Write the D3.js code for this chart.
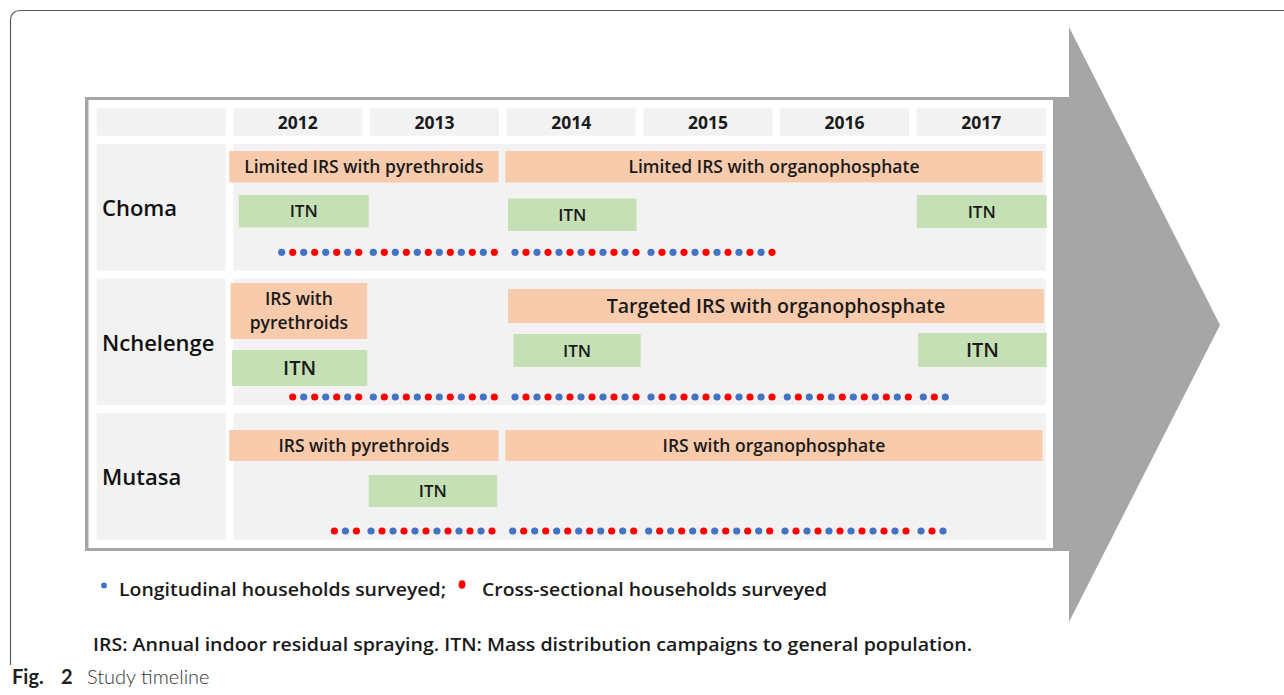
<!DOCTYPE html>
<html><head><meta charset="utf-8">
<script src="https://cdn.jsdelivr.net/npm/d3@7/dist/d3.min.js"></script>
<style>
html,body{margin:0;padding:0;background:#fff;}
svg{display:block;}
</style></head>
<body>
<svg id="chart" width="1284" height="695"></svg>
<script>
// ---------- DATA ----------
const years = ["2012", "2013", "2014", "2015", "2016", "2017"];
const sites = ["Choma", "Nchelenge", "Mutasa"];

// interventions: start/end in fractional years read from the timeline
const interventions = [
  { site: "Choma", kind: "IRS", lines: ["Limited IRS with pyrethroids"], start: 2011.97, end: 2013.94 },
  { site: "Choma", kind: "IRS", lines: ["Limited IRS with organophosphate"], start: 2013.99, end: 2017.92 },
  { site: "Choma", kind: "ITN", lines: ["ITN"], start: 2012.04, end: 2012.99 },
  { site: "Choma", kind: "ITN", lines: ["ITN"], start: 2014.01, end: 2014.95 },
  { site: "Choma", kind: "ITN", lines: ["ITN"], start: 2017.00, end: 2017.95 },
  { site: "Nchelenge", kind: "IRS", lines: ["IRS with", "pyrethroids"], start: 2011.98, end: 2012.98 },
  { site: "Nchelenge", kind: "IRS", lines: ["Targeted IRS with organophosphate"], start: 2014.01, end: 2017.93 },
  { site: "Nchelenge", kind: "ITN", lines: ["ITN"], start: 2011.99, end: 2012.98 },
  { site: "Nchelenge", kind: "ITN", lines: ["ITN"], start: 2014.05, end: 2014.98 },
  { site: "Nchelenge", kind: "ITN", lines: ["ITN"], start: 2017.01, end: 2017.95 },
  { site: "Mutasa", kind: "IRS", lines: ["IRS with pyrethroids"], start: 2011.97, end: 2013.94 },
  { site: "Mutasa", kind: "IRS", lines: ["IRS with organophosphate"], start: 2013.99, end: 2017.92 },
  { site: "Mutasa", kind: "ITN", lines: ["ITN"], start: 2012.99, end: 2013.93 }
];

// monthly surveys per site and year: L = longitudinal, C = cross-sectional, - = none
const surveys = {
  Choma:     ["----LCLCLCLC", "LCLCLCLCLCLC", "LCLCLCLCLCLC", "LCLCLCLCLCLC", "------------", "------------"],
  Nchelenge: ["-----CLCLCLC", "LCLCLCLCLCLC", "LCLCLCLCLCLC", "LCLCLCLCLCLC", "LCLCLCLCLCLC", "LCL---------"],
  Mutasa:    ["---------CLC", "LCLCLCLCLCLC", "LCLCLCLCLCLC", "LCLCLCLCLCLC", "LCLCLCLCLCLC", "LCL---------"]
};
const surveyTypes = ["L", "C"];
const legendLabels = ["Longitudinal households surveyed;", "Cross-sectional households surveyed"];
const footnote = "IRS: Annual indoor residual spraying. ITN: Mass distribution campaigns to general population.";
const captionBold = "Fig. 2";
const captionText = "Study timeline";

// ---------- LAYOUT (positions / sizes / styles) ----------
// per intervention: top offset within the row, height, font size
const barLayout = [
  { top: 7, h: 31.5, fs: 17.5 }, { top: 7, h: 31.5, fs: 17.5 },
  { top: 51, h: 32.5, fs: 17 }, { top: 54.5, h: 32.5, fs: 17 }, { top: 51, h: 33, fs: 17 },
  { top: 4.5, h: 56, fs: 17.5 }, { top: 10.5, h: 34, fs: 19.6 },
  { top: 71.5, h: 36, fs: 20 }, { top: 55.5, h: 33, fs: 17 }, { top: 54.5, h: 34, fs: 20 },
  { top: 17, h: 31, fs: 17.5 }, { top: 17, h: 31, fs: 17.5 },
  { top: 62, h: 32, fs: 17 }
];
const dotYearOffset = [4.4, 3.3, 8.3, 7.6, 7.2, 6.5];
const dotSiteShift = { Choma: 0, Nchelenge: 0, Mutasa: -2.3 };
const dotRowOffset = { Choma: 108.3, Nchelenge: 118.5, Mutasa: 118 };
const monthStep = 11;

const colors = { IRS: "#f8cbad", ITN: "#c5e0b4", L: "#4472c4", C: "#ff0000", cell: "#f2f2f2", arrow: "#a6a6a6" };
const FONT = "'Open Sans', 'Noto Sans', sans-serif";

// ---------- DRAW ----------
const svg = d3.select("#chart");

// card outline
svg.append("path")
  .attr("d", "M10.5,665 L10.5,21 Q10.5,10.5 21,10.5 L1284,10.5")
  .attr("fill", "none").attr("stroke", "#5a5a5a").attr("stroke-width", 1.2);

// arrow: shaft + head
svg.append("rect").attr("x", 85).attr("y", 97).attr("width", 1069 - 85).attr("height", 551 - 97).attr("fill", colors.arrow);
svg.append("path").attr("d", "M1069,27 L1220,325 L1069,622 Z").attr("fill", colors.arrow);
svg.append("rect").attr("x", 88.5).attr("y", 100).attr("width", 1053 - 88.5).attr("height", 548 - 100).attr("fill", "#fff");

const colW = 129;
const x = d3.scaleLinear().domain([2012, 2018]).range([233.3, 233.3 + 6 * 136.7]);
const y = d3.scaleBand().domain(sites).range([144, 539.7]).paddingInner(0.058).paddingOuter(0);

// header row
svg.append("rect").attr("x", 96.7).attr("y", 108.3).attr("width", 129).attr("height", 27.4).attr("fill", colors.cell);
const hdr = svg.append("g").selectAll("g").data(years).join("g");
hdr.append("rect")
  .attr("x", d => x(+d)).attr("y", 108.3).attr("width", colW).attr("height", 27.4).attr("fill", colors.cell);
hdr.append("text")
  .attr("x", d => x(+d) + colW / 2).attr("y", 129)
  .attr("text-anchor", "middle").attr("font-family", FONT).attr("font-weight", 700).attr("font-size", 17.5)
  .attr("fill", "#1a1a1a").text(d => d);

// site rows
const rows = svg.append("g").selectAll("g").data(sites).join("g");
rows.append("rect").attr("x", 96.7).attr("y", d => y(d)).attr("width", 129).attr("height", y.bandwidth()).attr("fill", colors.cell);
rows.append("rect").attr("x", x(2012)).attr("y", d => y(d)).attr("width", x(2017) + colW - x(2012)).attr("height", y.bandwidth()).attr("fill", colors.cell);
rows.append("text")
  .attr("x", 102).attr("y", d => y(d) + 72)
  .attr("font-family", FONT).attr("font-weight", 600).attr("font-size", 22)
  .attr("fill", "#111").text(d => d);

// intervention bars
const bars = svg.append("g").selectAll("g").data(interventions).join("g");
bars.append("rect")
  .attr("x", d => x(d.start)).attr("width", d => x(d.end) - x(d.start))
  .attr("y", (d, i) => y(d.site) + barLayout[i].top).attr("height", (d, i) => barLayout[i].h)
  .attr("fill", d => colors[d.kind]);
bars.each(function (d, i) {
  const L = barLayout[i];
  const cx = (x(d.start) + x(d.end)) / 2;
  const cy = y(d.site) + L.top + L.h / 2;
  const lh = L.fs * 1.38;
  const t = d3.select(this).append("text")
    .attr("text-anchor", "middle").attr("font-family", FONT).attr("font-weight", 600)
    .attr("font-size", L.fs).attr("fill", "#1a1a1a");
  d.lines.forEach((ln, k) => {
    t.append("tspan").attr("x", cx)
      .attr("y", cy + (k - (d.lines.length - 1) / 2) * lh + L.fs * 0.36)
      .text(ln);
  });
});

// survey dots
const dots = [];
sites.forEach(s => {
  surveys[s].forEach((str, yi) => {
    str.split("").forEach((c, m) => {
      if (c !== "-") dots.push({ site: s, yi, m, type: c });
    });
  });
});
svg.append("g").selectAll("circle").data(dots).join("circle")
  .attr("cx", d => x(+years[d.yi]) + dotYearOffset[d.yi] + dotSiteShift[d.site] + d.m * monthStep)
  .attr("cy", d => y(d.site) + dotRowOffset[d.site])
  .attr("r", 3.6)
  .attr("fill", d => colors[d.type]);

// legend
const lg = svg.append("g");
lg.append("circle").attr("cx", 104).attr("cy", 585.5).attr("r", 3).attr("fill", colors[surveyTypes[0]]);
lg.append("text").attr("x", 119).attr("y", 596).attr("font-family", FONT).attr("font-weight", 600).attr("font-size", 18)
  .attr("fill", "#1a1a1a").attr("textLength", 327).attr("lengthAdjust", "spacingAndGlyphs").text(legendLabels[0]);
lg.append("ellipse").attr("cx", 462).attr("cy", 584.5).attr("rx", 3.4).attr("ry", 4.2).attr("fill", colors[surveyTypes[1]]);
lg.append("text").attr("x", 482).attr("y", 596).attr("font-family", FONT).attr("font-weight", 600).attr("font-size", 18)
  .attr("fill", "#1a1a1a").attr("textLength", 345).attr("lengthAdjust", "spacingAndGlyphs").text(legendLabels[1]);

// footnote
svg.append("text").attr("x", 93).attr("y", 651).attr("font-family", FONT).attr("font-weight", 600).attr("font-size", 18)
  .attr("fill", "#1a1a1a").attr("textLength", 879).attr("lengthAdjust", "spacingAndGlyphs").text(footnote);

// caption
const capWords = captionBold.split(" ");
const cap = svg.append("text").attr("x", 12).attr("y", 684).attr("font-family", "Lato, 'Open Sans', sans-serif").attr("font-weight", 700)
  .attr("font-size", 20).attr("fill", "#222");
cap.append("tspan").text(capWords[0]);
cap.append("tspan").attr("x", 61).text(capWords[1]);
svg.append("text").attr("x", 87).attr("y", 684).attr("font-family", "Lato, 'Open Sans', sans-serif").attr("font-weight", 300)
  .attr("font-size", 20).attr("fill", "#333").text(captionText);
</script>
</body></html>
